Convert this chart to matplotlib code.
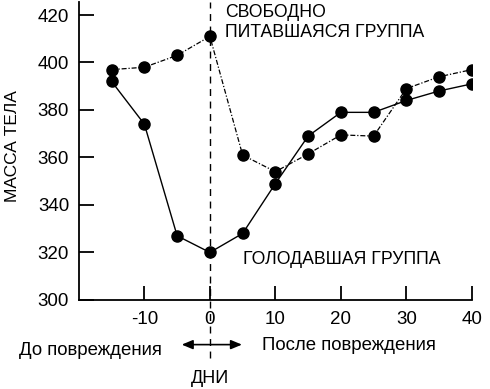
import matplotlib.pyplot as plt

plt.rcParams['font.family'] = ['Liberation Sans', 'DejaVu Sans']
plt.rcParams['axes.unicode_minus'] = False

days = [-15, -10, -5, 0, 5, 10, 15, 20, 25, 30, 35, 40]
free_fed = [397, 398, 403, 411, 361, 354, 361.5, 369.5, 369, 389, 394, 397]
starved = [392, 374, 327, 320, 328, 349, 369, 379, 379, 384, 388, 391]
xticks = [-10, 0, 10, 20, 30, 40]
yticks = [300, 320, 340, 360, 380, 400, 420]

fig = plt.figure(figsize=(4.9, 3.89), dpi=100)
ax = fig.add_axes([0.161, 0.229, 0.802, 0.766])

ax.plot(days, free_fed, color='black', lw=0.9, ls=(0, (4, 1.5, 1, 1.5)),
        marker='o', ms=8, zorder=3)
ax.plot(days, starved, color='black', lw=1.0, ls='-',
        marker='o', ms=8, zorder=3)

ax.set_xlim(-20, 40)
ax.set_ylim(300, 425.5)
ax.set_xticks(xticks)
ax.set_yticks(yticks)
ax.spines['top'].set_visible(False)
ax.spines['right'].set_visible(False)
ax.spines['left'].set_linewidth(1.3)
ax.spines['bottom'].set_linewidth(1.3)
ax.tick_params(axis='y', direction='in', length=11, width=1.3, labelsize=13.5, pad=7)
ax.tick_params(axis='x', direction='in', length=10, width=1.3, labelsize=13.5, pad=8)
ax.set_ylabel('МАССА ТЕЛА', fontsize=12.5)
ax.yaxis.set_label_coords(-0.150, 0.515)

# vertical dashed line at injury day
tr = ax.get_xaxis_transform()
ax.plot([0, 0], [-0.195, 1.0], transform=tr, color='black', lw=1.0,
        ls=(0, (5, 4)), clip_on=False, zorder=1)

ax.text(2.3, 424.5, 'СВОБОДНО\nПИТАВШАЯСЯ ГРУППА', fontsize=12.7,
        va='top', ha='left', linespacing=1.2)
ax.text(5, 317, 'ГОЛОДАВШАЯ ГРУППА', fontsize=12.7, va='center', ha='left')

# before / after annotation under the axis
fig.text(0.184, 0.10, 'До повреждения', fontsize=13.4, ha='center', va='center')
fig.text(0.712, 0.113, 'После повреждения', fontsize=13.4, ha='center', va='center')
fig.text(0.428, 0.028, 'ДНИ', fontsize=13, ha='center', va='center')
ax.annotate('', xy=(-4.3, -0.15), xytext=(4.9, -0.15), xycoords=tr, textcoords=tr,
            arrowprops=dict(arrowstyle='<|-|>,head_length=0.6,head_width=0.25',
                            color='black', lw=1.2,
                            mutation_scale=11, shrinkA=0, shrinkB=0))

fig.savefig('out.png', dpi=100)
